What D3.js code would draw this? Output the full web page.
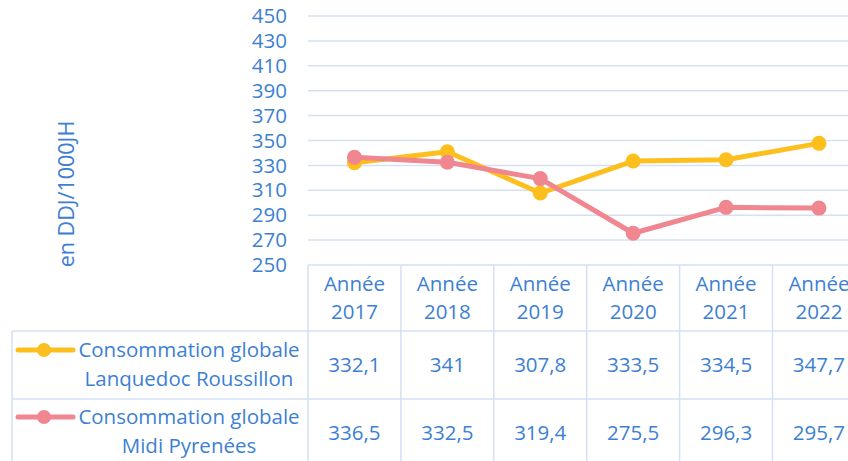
<!DOCTYPE html>
<html>
<head>
<meta charset="UTF-8">
<title>Consommation globale</title>
<style>
  body { margin: 0; background: #fff; }
  svg text { font-family: "Open Sans", "Noto Sans", sans-serif; fill: #3d7fd3; }
</style>
</head>
<body>
<svg id="chart"></svg>
<script src="https://d3js.org/d3.v7.min.js"></script>
<script>
  var years = ["2017", "2018", "2019", "2020", "2021", "2022"];
  var seriesNames = [
    ["Consommation globale", "Lanquedoc Roussillon"],
    ["Consommation globale", "Midi Pyrenées"]
  ];
  var lanquedoc = [332.1, 341, 307.8, 333.5, 334.5, 347.7];
  var midiPyr = [336.5, 332.5, 319.4, 275.5, 296.3, 295.7];
  var yTicks = d3.range(250, 451, 20);
  var colors = ["#fcbf1e", "#ef8690"];

  let width = 848, height = 461;
  let svg = d3.select("#chart").attr("width", width).attr("height", height);

  let x = d3.scaleBand().domain(years).range([308, 308 + 6 * 92.9]);
  let y = d3.scaleLinear().domain([250, 450]).range([265, 16]);
  let gridCol = "#d5e1f3";
  let fs = "20.5px";
  let fmt = v => String(v).replace(".", ",");

  // gridlines
  svg.append("g").selectAll("line")
    .data(yTicks)
    .enter().append("line")
    .attr("x1", 308).attr("x2", width)
    .attr("y1", d => y(d)).attr("y2", d => y(d))
    .style("stroke", gridCol).style("stroke-width", 1.5);

  // y labels
  svg.append("g").selectAll("text")
    .data(yTicks)
    .enter().append("text")
    .attr("x", 287).attr("y", d => y(d))
    .attr("dy", "0.35em")
    .attr("text-anchor", "end")
    .style("font-size", fs)
    .text(d => d);

  // y title
  svg.append("text")
    .attr("transform", "translate(74,194) rotate(-90)")
    .attr("text-anchor", "middle")
    .style("font-size", "21.5px")
    .text("en DDJ/1000JH");

  // table grid
  let tbl = svg.append("g").style("stroke", gridCol).style("stroke-width", 1.5);
  // vertical borders of data columns
  d3.range(7).forEach(function(i) {
    let xx = 308 + i * x.bandwidth();
    tbl.append("line").attr("x1", xx).attr("x2", xx).attr("y1", 265).attr("y2", height);
  });
  tbl.append("line").attr("x1", 12).attr("x2", 12).attr("y1", 331).attr("y2", height);
  [331, 399].forEach(function(yy) {
    tbl.append("line").attr("x1", 12).attr("x2", width).attr("y1", yy).attr("y2", yy);
  });

  // header
  let head = svg.append("g").selectAll("g")
    .data(years).enter().append("g")
    .attr("transform", d => "translate(" + (x(d) + x.bandwidth() / 2) + ",0)");
  head.append("text").attr("y", 284).attr("dy", "0.35em").attr("text-anchor", "middle")
    .style("font-size", fs).text("Année");
  head.append("text").attr("y", 312).attr("dy", "0.35em").attr("text-anchor", "middle")
    .style("font-size", fs).text(d => d);

  // values
  [lanquedoc, midiPyr].forEach(function(vals, r) {
    svg.append("g").selectAll("text")
      .data(vals).enter().append("text")
      .attr("x", (d, i) => x(years[i]) + x.bandwidth() / 2)
      .attr("y", [365, 433][r])
      .attr("dy", "0.35em")
      .attr("text-anchor", "middle")
      .style("font-size", fs)
      .text(d => fmt(d));
  });

  // legend keys in the table
  seriesNames.forEach(function(names, r) {
    let y0 = [350, 417][r];
    let g = svg.append("g");
    g.append("line").attr("x1", 18).attr("x2", 73).attr("y1", y0).attr("y2", y0)
      .style("stroke", colors[r]).style("stroke-width", 5).style("stroke-linecap", "round");
    g.append("circle").attr("cx", 44).attr("cy", y0).attr("r", 7).style("fill", colors[r]);
    g.append("text").attr("x", 189).attr("y", y0).attr("dy", "0.35em").attr("text-anchor", "middle")
      .style("font-size", fs).text(names[0]);
    g.append("text").attr("x", 189).attr("y", y0 + 29).attr("dy", "0.35em").attr("text-anchor", "middle")
      .style("font-size", fs).text(names[1]);
  });

  // lines
  let line = d3.line()
    .x((d, i) => x(years[i]) + x.bandwidth() / 2)
    .y(d => y(d));

  [lanquedoc, midiPyr].forEach(function(vals, r) {
    svg.append("path")
      .datum(vals)
      .attr("d", line)
      .style("fill", "none")
      .style("stroke", colors[r])
      .style("stroke-width", 5)
      .style("stroke-linejoin", "round");
    svg.append("g").selectAll("circle")
      .data(vals).enter().append("circle")
      .attr("cx", (d, i) => x(years[i]) + x.bandwidth() / 2)
      .attr("cy", d => y(d))
      .attr("r", 7.5)
      .style("fill", colors[r]);
  });
</script>
</body>
</html>
